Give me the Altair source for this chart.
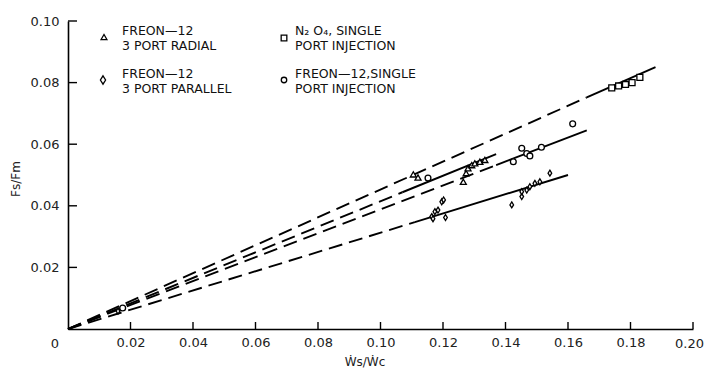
import altair as alt
import pandas as pd

# ---------------- data ----------------
# fitted lines (all start at the origin): end of dashed part, end of solid part
line_names = ["N2O4 single", "F12 radial", "F12 single", "F12 parallel"]
dash_end_x = [0.166, 0.107, 0.137, 0.111]
dash_end_y = [0.0752, 0.0444, 0.0532, 0.0347]
solid_end_x = [0.188, 0.137, 0.166, 0.160]
solid_end_y = [0.0850, 0.0568, 0.0645, 0.0500]

# measured points
radial_x = [0.1105, 0.1120, 0.1265, 0.1274, 0.1280, 0.1292, 0.1302, 0.1318, 0.1334]
radial_y = [0.0502, 0.0492, 0.0478, 0.0506, 0.0522, 0.0532, 0.0538, 0.0543, 0.0549]

n2o4_x = [0.1740, 0.1762, 0.1784, 0.1805, 0.1830]
n2o4_y = [0.0783, 0.0789, 0.0794, 0.0800, 0.0817]

parallel_x = [0.0160, 0.1164, 0.1168, 0.1174, 0.1184, 0.1196, 0.1202, 0.1208,
              0.1420, 0.1452, 0.1452, 0.1468, 0.1478, 0.1494, 0.1510, 0.1542]
parallel_y = [0.0058, 0.0365, 0.0358, 0.0381, 0.0386, 0.0413, 0.0419, 0.0362,
              0.0403, 0.0430, 0.0446, 0.0451, 0.0462, 0.0473, 0.0478, 0.0506]

single_x = [0.0175, 0.1152, 0.1425, 0.1452, 0.1468, 0.1478, 0.1515, 0.1615]
single_y = [0.0068, 0.0490, 0.0543, 0.0587, 0.0570, 0.0562, 0.0590, 0.0666]

x_ticks = [0.02, 0.04, 0.06, 0.08, 0.10, 0.12, 0.14, 0.16, 0.18, 0.20]
y_ticks = [0.02, 0.04, 0.06, 0.08, 0.10]

legend_radial = ["FREON\u201412", "3 PORT RADIAL"]
legend_parallel = ["FREON\u201412", "3 PORT PARALLEL"]
legend_n2o4 = ["N\u2082 O\u2084, SINGLE", "PORT INJECTION"]
legend_single = ["FREON\u201412,SINGLE", "PORT INJECTION"]

# ---------------- tables ----------------
dash_rows, solid_rows = [], []
for i, n in enumerate(line_names):
    dash_rows += [{"line": n, "x": 0.0, "y": 0.0},
                  {"line": n, "x": dash_end_x[i], "y": dash_end_y[i]}]
    solid_rows += [{"line": n, "x": dash_end_x[i], "y": dash_end_y[i]},
                   {"line": n, "x": solid_end_x[i], "y": solid_end_y[i]}]
dash_df = pd.DataFrame(dash_rows)
solid_df = pd.DataFrame(solid_rows)

pts = pd.concat([
    pd.DataFrame({"s": "radial", "x": radial_x, "y": radial_y}),
    pd.DataFrame({"s": "n2o4", "x": n2o4_x, "y": n2o4_y}),
    pd.DataFrame({"s": "parallel", "x": parallel_x, "y": parallel_y}),
    pd.DataFrame({"s": "single", "x": single_x, "y": single_y}),
])

W, H = 625, 308
FONT = "DejaVu Sans"
DIAMOND = "M0,-1L0.62,0L0,1L-0.62,0Z"

xs = alt.Scale(domain=[0, 0.2], nice=False, zero=False)
ys = alt.Scale(domain=[0, 0.1], nice=False, zero=False)

xaxis = alt.Axis(values=x_ticks, ticks=False, grid=False, title=None,
                 domainColor="black", domainWidth=1.6,
                 labelExpr="datum.value > 0.19 ? '' : format(datum.value, '.2f')",
                 labelFont=FONT, labelFontSize=13, labelColor="#222",
                 labelPadding=7, labelOverlap=False, labelFlush=False)
yaxis = alt.Axis(values=y_ticks, ticks=False, grid=False, title=None,
                 domainColor="black", domainWidth=1.6,
                 labelExpr="format(datum.value, '.2f')",
                 labelFont=FONT, labelFontSize=13, labelColor="#222",
                 labelPadding=9, labelOverlap=False, labelFlush=False)

dashed = alt.Chart(dash_df).mark_line(color="black", strokeWidth=1.9,
                                      strokeDash=[14, 7]).encode(
    x=alt.X("x:Q", scale=xs, axis=xaxis),
    y=alt.Y("y:Q", scale=ys, axis=yaxis),
    detail="line:N",
)
solid = alt.Chart(solid_df).mark_line(color="black", strokeWidth=1.9).encode(
    x=alt.X("x:Q", scale=xs), y=alt.Y("y:Q", scale=ys), detail="line:N")

points = alt.Chart(pts).mark_point(filled=True, fill="white", stroke="black",
                                   strokeWidth=1.3, opacity=1).encode(
    x=alt.X("x:Q", scale=xs),
    y=alt.Y("y:Q", scale=ys),
    shape=alt.Shape("s:N", legend=None,
                    scale=alt.Scale(domain=["radial", "n2o4", "parallel", "single"],
                                    range=["triangle-up", "square", DIAMOND, "circle"])),
    size=alt.Size("s:N", legend=None,
                  scale=alt.Scale(domain=["radial", "n2o4", "parallel", "single"],
                                  range=[36, 34, 75, 36])),
)

xtick_df = pd.DataFrame({"x": x_ticks})
ytick_df = pd.DataFrame({"y": y_ticks})
xt = alt.Chart(xtick_df).mark_rule(color="black", strokeWidth=1.4).encode(
    x=alt.X("x:Q", scale=xs), y=alt.value(H), y2=alt.value(H - 7))
yt = alt.Chart(ytick_df).mark_rule(color="black", strokeWidth=1.4).encode(
    y=alt.Y("y:Q", scale=ys), x=alt.value(0), x2=alt.value(9))

one = alt.Data(values=[{"a": 0}])


def label(lines, px, py):
    return alt.Chart(one).mark_text(text=lines, align="left", baseline="alphabetic",
                                    font=FONT, fontSize=12.5, lineHeight=14.5,
                                    color="#111").encode(x=alt.value(px), y=alt.value(py))


def symbol(shape, px, py, size):
    return alt.Chart(one).mark_point(shape=shape, filled=True, fill="white",
                                     stroke="black", strokeWidth=1.3, size=size,
                                     opacity=1).encode(x=alt.value(px), y=alt.value(py))


legend = (label(legend_radial, 54, 14) + label(legend_parallel, 54, 57) +
          label(legend_n2o4, 227, 14) + label(legend_single, 227, 57) +
          symbol("triangle-up", 36, 16, 34) + symbol(DIAMOND, 35, 59, 70) +
          symbol("square", 216, 17, 32) + symbol("circle", 216, 59, 30))

zero_lbl = alt.Chart(one).mark_text(text="0", font=FONT, fontSize=13, color="#222",
                                    baseline="alphabetic").encode(
    x=alt.value(-13), y=alt.value(327))
last_lbl = alt.Chart(one).mark_text(text="0.20", font=FONT, fontSize=13, color="#222",
                                    baseline="alphabetic", align="right").encode(
    x=alt.value(W + 11), y=alt.value(327))
ytitle = alt.Chart(one).mark_text(text="Fs/Fm", font=FONT, fontSize=12, angle=270,
                                  color="#222").encode(x=alt.value(-52), y=alt.value(158))
xtitle = alt.Chart(one).mark_text(text="\u1e86s/\u1e86c", font=FONT, fontSize=12,
                                  color="#222", baseline="alphabetic").encode(
    x=alt.value(297), y=alt.value(345))

chart = alt.layer(dashed, solid, xt, yt, points, legend, zero_lbl, last_lbl,
                  ytitle, xtitle).properties(
    width=W, height=H,
    autosize=alt.AutoSizeParams(type="none"),
    padding={"left": 68, "top": 21, "right": 12, "bottom": 40},
    background="white",
).configure_view(stroke=None)

chart.save("out.html", embed_options={"renderer": "svg", "actions": False})
